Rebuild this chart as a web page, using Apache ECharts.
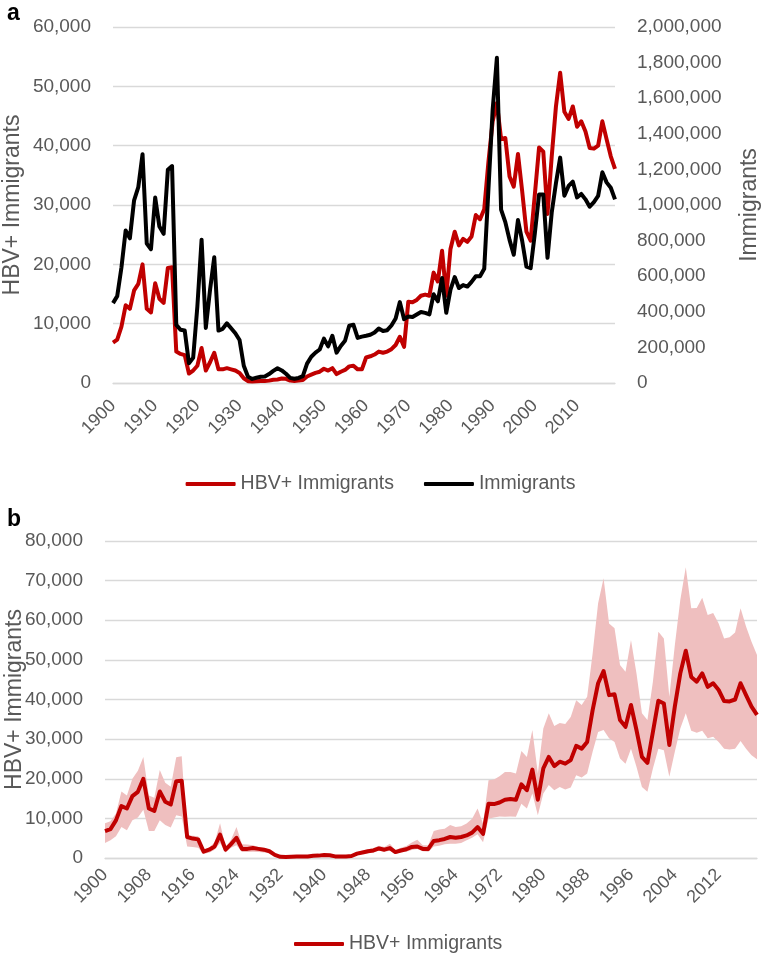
<!DOCTYPE html>
<html><head><meta charset="utf-8">
<script src="https://cdn.jsdelivr.net/npm/echarts@6/dist/echarts.min.js"></script>
<style>html,body{margin:0;padding:0;background:#fff}#c{width:761px;height:958px}</style>
</head><body><div id="c"></div>
<script>
const years = [];
for (let y = 1900; y <= 2019; y++) years.push(String(y));

const immigrants = [448572,487918,648743,857046,812870,1026499,1100735,1285349,782870,751786,
1041570,878587,838172,1197892,1218480,326700,298826,295403,110618,141132,
430001,805228,309556,522919,706896,294314,304488,335175,307255,279678,
241700,97139,35576,23068,29470,34956,36329,50244,67895,82998,
70756,51776,28781,23725,28551,38119,108721,147292,170570,188317,
249187,205717,265520,170434,208177,237790,321625,326867,253265,260686,
265398,271344,283763,306260,292248,296697,323040,361972,454448,358579,
373326,370478,384685,398515,393919,385378,499093,458755,589810,394244,
524295,595014,533624,550052,541811,568149,600027,599889,641346,1090172,
1535872,1826595,973977,903916,803993,720177,915560,797847,653206,644787,
841002,1058902,1059356,703542,957883,1122257,1266129,1052415,1107126,1130818,
1042625,1062040,1031631,990553,1016518,1051031,1183505,1127167,1096611,1031765];

const hbv = [6800,7300,9500,13100,12500,15600,16700,20000,12500,11900,
16800,14200,13500,19400,19500,5300,4900,4700,1600,2100,
2900,5900,2100,3500,5100,2300,2300,2500,2300,2100,
1700,800,300,250,300,350,350,400,550,600,
750,700,400,350,400,500,1100,1400,1700,1900,
2400,2100,2500,1500,1900,2200,2800,2900,2300,2300,
4300,4500,4800,5300,5100,5300,5700,6400,7800,6100,
13700,13600,14000,14700,14900,14700,18600,17100,22300,14700,
22600,25500,23200,24300,23800,24700,28300,27600,29300,37300,
44100,47200,41100,41300,34800,33100,38600,32300,25500,24000,
31800,39700,39000,28500,38200,46600,52300,45700,44500,46600,
43200,44100,42400,39600,39500,40000,44100,41100,38200,36100];

const hbvUpper = [8800,9300,11200,16800,15800,20000,22000,25500,15800,15200,
22200,19000,18000,25400,25700,5700,5600,5500,2100,2600,
4000,8800,2800,4600,7800,3500,3400,3200,2800,2600,
2100,1100,450,400,450,500,500,550,750,800,
1000,950,550,500,550,700,1500,1900,2200,2500,
3100,2800,3600,2000,2600,3000,3900,4600,3200,3200,
6800,7200,7400,8300,7800,8000,8700,9900,12500,8700,
19600,19800,20600,21700,21700,21300,27000,25500,32300,21300,
32700,36500,33300,34100,33800,35600,39800,38600,40700,51600,
64300,70600,59200,58000,48700,47000,55000,46600,36500,34800,
44500,57100,55400,40700,53700,65100,73400,63000,63100,65700,
61300,61800,59200,55400,55700,56900,63000,58400,54600,51200];

const hbvLower = [3800,4500,5500,7800,7000,9500,10200,12200,6800,6800,
9500,8300,7700,10800,10500,2900,2800,2600,1100,1300,
2100,3800,1400,2600,3200,1500,1500,1600,1500,1400,
1300,500,200,150,200,200,200,250,350,400,
500,450,250,200,250,300,750,1000,1200,1400,
1900,1600,1800,1100,1400,1600,2000,2300,1700,1600,
2900,3100,3500,3600,3600,3800,4500,5100,6000,4000,
9900,10200,10500,10400,10500,10400,13700,12500,16300,10800,
16300,18400,17100,17900,17300,17800,20900,20300,21300,26800,
31800,32300,30200,29300,25100,23800,27600,23000,17900,16700,
22600,27600,27200,20500,26800,32700,36500,32100,31600,32100,
30200,30600,29300,27600,27400,27600,29500,27600,25900,24900];

const bandWidth = hbvUpper.map((u, i) => u - hbvLower[i]);

const FONT = "'Liberation Sans', Arial, sans-serif";
const GREY = '#595959';
const GRID = '#d9d9d9';
const RED = '#c00000';
const fmt = v => Number(v).toLocaleString('en-US');

const chart = echarts.init(document.getElementById('c'), null, {renderer: 'canvas'});
chart.setOption({
  animation: false,
  backgroundColor: '#fff',
  textStyle: {fontFamily: FONT},
  title: [
    {text: 'a', left: 2, top: -3, textStyle: {fontSize: 23, fontWeight: 'bold', color: '#000', fontFamily: FONT}},
    {text: 'b', left: 2, top: 503, textStyle: {fontSize: 23, fontWeight: 'bold', color: '#000', fontFamily: FONT}}
  ],
  legend: [
    {
      data: ['HBV+ Immigrants', 'Immigrants'],
      left: 'center', top: 469,
      icon: 'roundRect', itemWidth: 50, itemHeight: 4, itemGap: 30,
      textStyle: {fontSize: 19.5, color: GREY, fontFamily: FONT}
    },
    {
      data: ['HBV+ Immigrants'],
      left: 289, top: 929,
      icon: 'roundRect', itemWidth: 50, itemHeight: 4,
      textStyle: {fontSize: 19.5, color: GREY, fontFamily: FONT}
    }
  ],
  grid: [
    {left: 113, top: 27, width: 502, height: 356, outerBoundsMode: 'none', containLabel: false},
    {left: 105, top: 541, width: 652, height: 317, outerBoundsMode: 'none', containLabel: false}
  ],
  xAxis: [
    {
      type: 'category', gridIndex: 0, data: years, boundaryGap: false,
      axisLine: {lineStyle: {color: GRID, width: 1.3}},
      axisTick: {show: false},
      axisLabel: {interval: 9, rotate: 45, fontSize: 18, color: GREY, margin: 20, fontFamily: FONT}
    },
    {
      type: 'category', gridIndex: 1, data: years, boundaryGap: false,
      axisLine: {lineStyle: {color: GRID, width: 1.3}},
      axisTick: {show: false},
      axisLabel: {interval: 7, rotate: 45, fontSize: 18, color: GREY, margin: 14, fontFamily: FONT}
    }
  ],
  yAxis: [
    {
      type: 'value', gridIndex: 0, min: 0, max: 60000, interval: 10000,
      name: 'HBV+ Immigrants', nameLocation: 'middle', nameRotate: 90, nameGap: 89,
      nameMoveOverlap: false,
      nameTextStyle: {fontSize: 23, color: GREY, fontFamily: FONT},
      axisLine: {show: false}, axisTick: {show: false},
      splitLine: {lineStyle: {color: GRID, width: 1.3}},
      axisLabel: {formatter: fmt, fontSize: 19, color: GREY, margin: 22, fontFamily: FONT}
    },
    {
      type: 'value', gridIndex: 0, position: 'right', min: 0, max: 2000000, interval: 200000,
      name: 'Immigrants', nameLocation: 'middle', nameRotate: 90, nameGap: 123,
      nameMoveOverlap: false,
      nameTextStyle: {fontSize: 23, color: GREY, fontFamily: FONT},
      axisLine: {show: false}, axisTick: {show: false},
      splitLine: {show: false},
      axisLabel: {formatter: fmt, fontSize: 19, color: GREY, margin: 22, fontFamily: FONT}
    },
    {
      type: 'value', gridIndex: 1, min: 0, max: 80000, interval: 10000,
      name: 'HBV+ Immigrants', nameLocation: 'middle', nameRotate: 90, nameGap: 79,
      nameMoveOverlap: false,
      nameTextStyle: {fontSize: 23, color: GREY, fontFamily: FONT},
      axisLine: {show: false}, axisTick: {show: false},
      splitLine: {lineStyle: {color: GRID, width: 1.3}},
      axisLabel: {formatter: fmt, fontSize: 19, color: GREY, margin: 22, fontFamily: FONT}
    }
  ],
  series: [
    {
      name: 'HBV+ Immigrants', type: 'line', xAxisIndex: 0, yAxisIndex: 0,
      data: hbv, showSymbol: false, symbol: 'none',
      lineStyle: {color: RED, width: 4, join: 'round'}, itemStyle: {color: RED}
    },
    {
      name: 'Immigrants', type: 'line', xAxisIndex: 0, yAxisIndex: 1,
      data: immigrants, showSymbol: false, symbol: 'none',
      lineStyle: {color: '#000', width: 4, join: 'round'}, itemStyle: {color: '#000'}
    },
    {
      name: 'lower', type: 'line', xAxisIndex: 1, yAxisIndex: 2, stack: 'band',
      data: hbvLower, showSymbol: false, symbol: 'none',
      lineStyle: {opacity: 0}, silent: true
    },
    {
      name: 'band', type: 'line', xAxisIndex: 1, yAxisIndex: 2, stack: 'band',
      data: bandWidth, showSymbol: false, symbol: 'none',
      lineStyle: {opacity: 0}, areaStyle: {color: '#efbfbf', opacity: 1}, silent: true
    },
    {
      name: 'HBV+ Immigrants', type: 'line', xAxisIndex: 1, yAxisIndex: 2,
      data: hbv, showSymbol: false, symbol: 'none', z: 5,
      lineStyle: {color: RED, width: 4, join: 'round'}, itemStyle: {color: RED}
    }
  ]
});
</script></body></html>
